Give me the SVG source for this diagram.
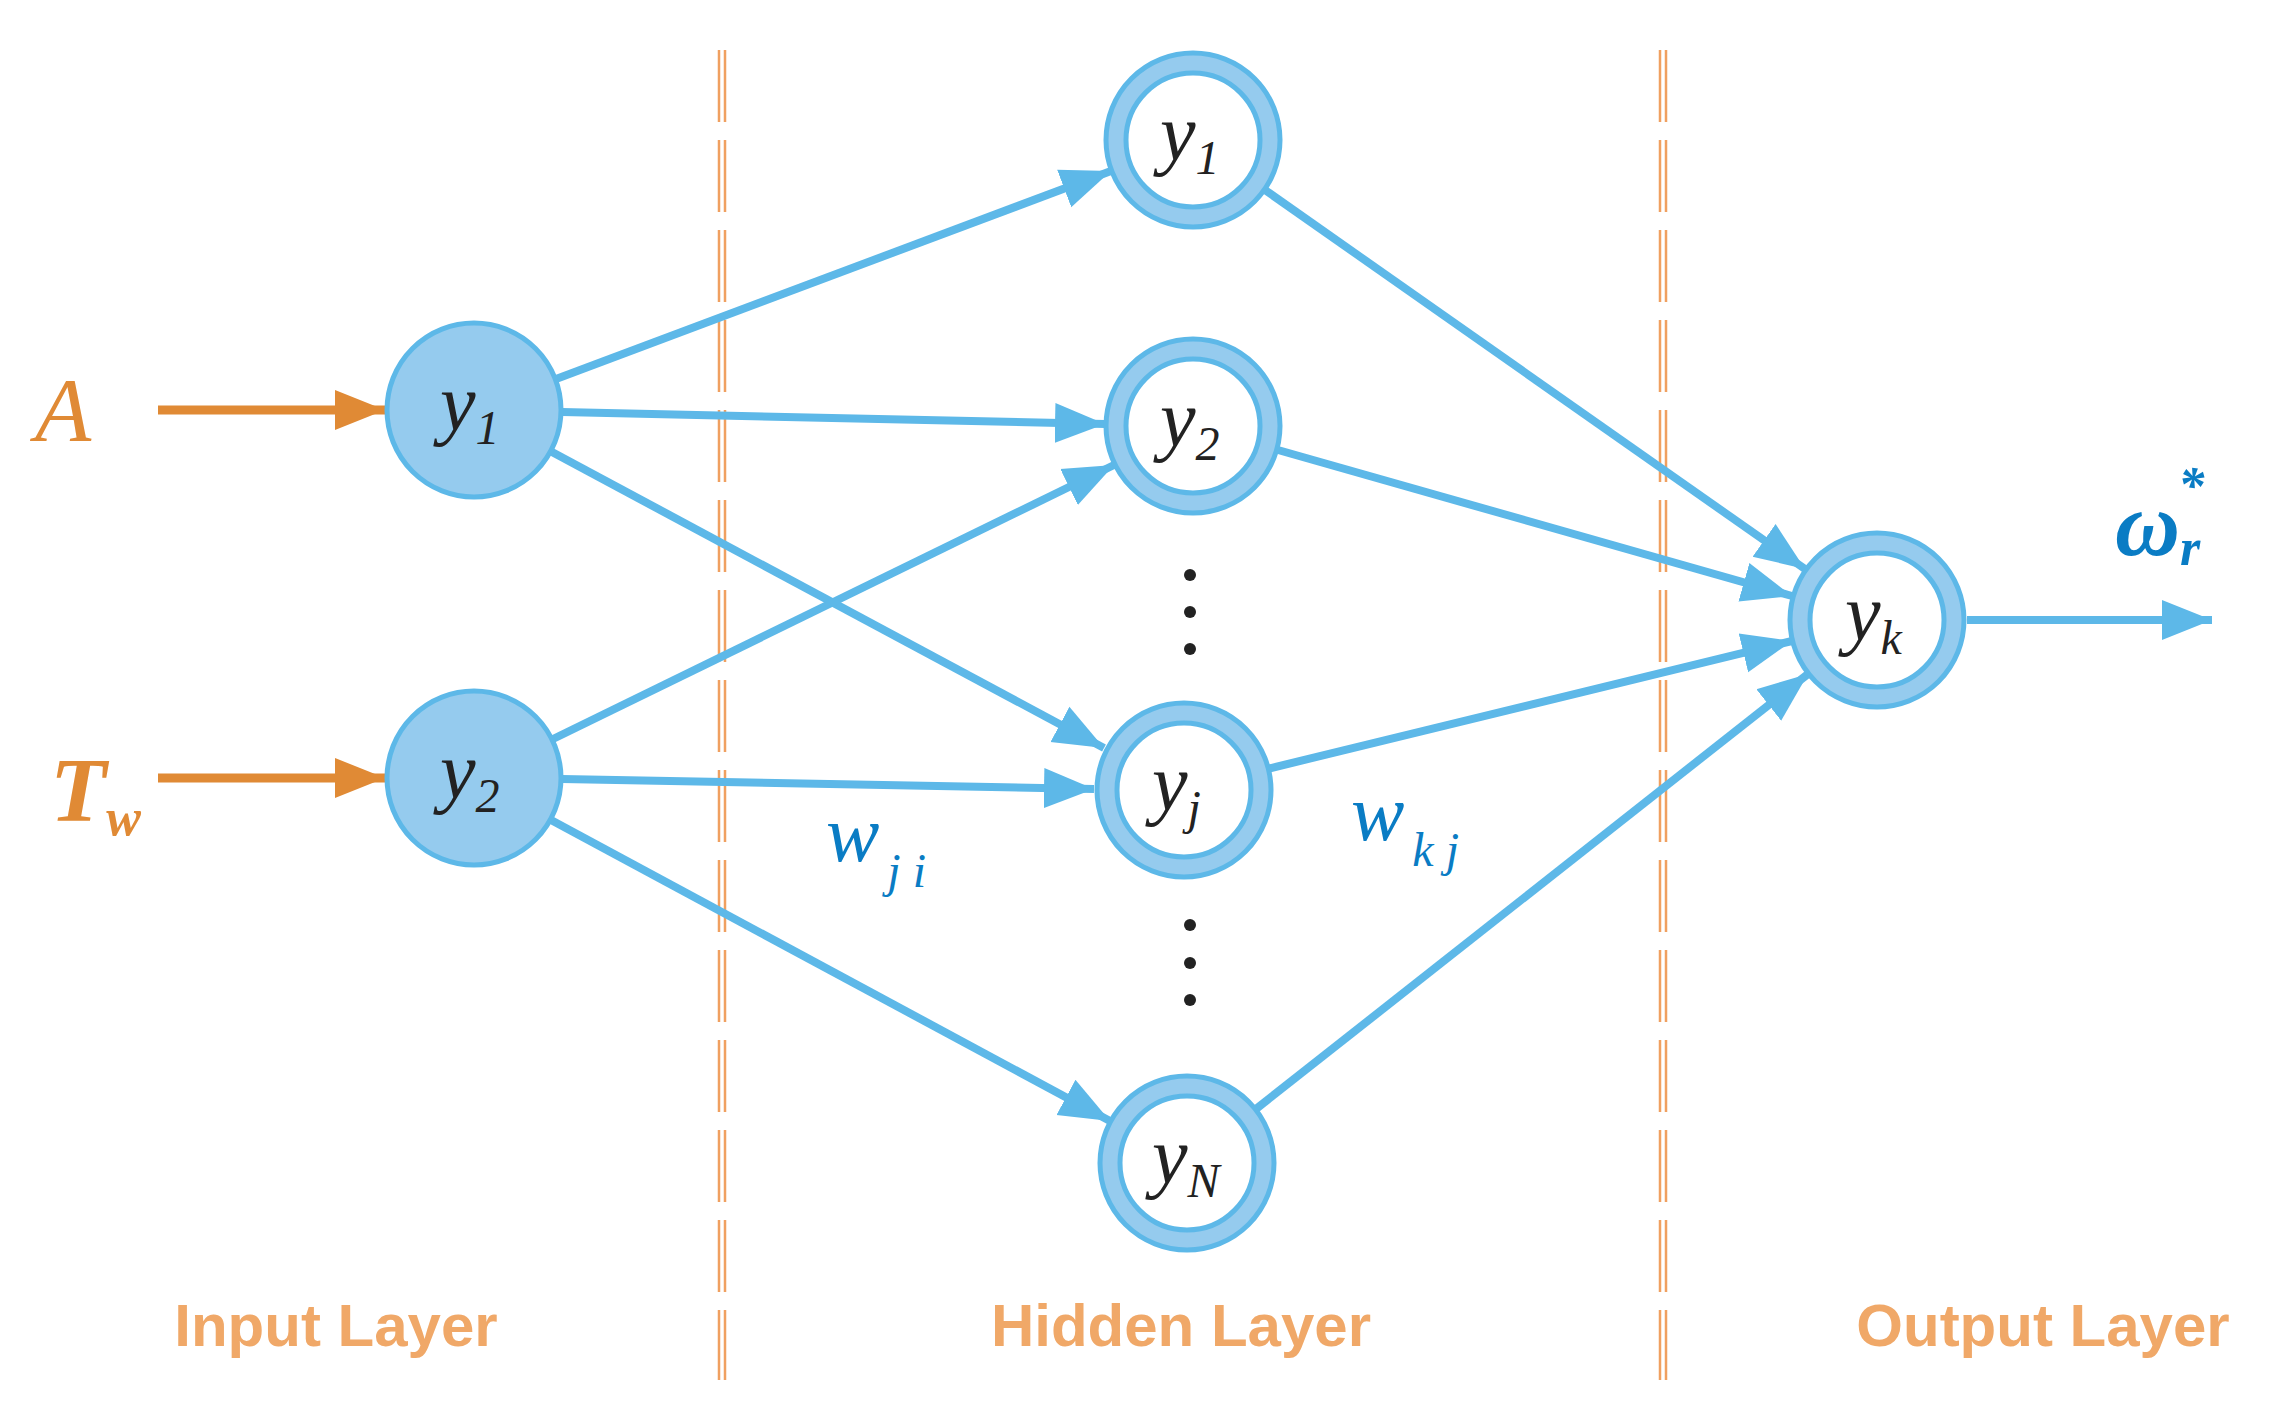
<svg xmlns="http://www.w3.org/2000/svg" width="2292" height="1415" viewBox="0 0 2292 1415">
<style>
.e{stroke:#5db8e8;stroke-width:8;fill:none;marker-end:url(#ab)}
.o{stroke:#e08a35;stroke-width:9;fill:none;marker-end:url(#ao)}
.d{stroke:#f0a060;stroke-width:2.5;stroke-dasharray:72 18}
.v{font-family:"Liberation Serif",serif;font-style:italic;fill:#222}
.lab{font-family:"Liberation Sans",Arial,sans-serif;font-weight:bold;font-size:60px;fill:#f0a868}
.w{font-family:"Liberation Serif",serif;font-style:italic;fill:#0a7cc4}
.ring{fill:#fff;stroke:#95cbee;stroke-width:18}
.rl{fill:none;stroke:#5db8e8;stroke-width:5}
</style>
<defs>
<marker id="ab" markerUnits="userSpaceOnUse" markerWidth="52" markerHeight="44" refX="50" refY="22" orient="auto"><path d="M0,2 L50,22 L0,42 z" fill="#5db8e8"/></marker>
<marker id="ao" markerUnits="userSpaceOnUse" markerWidth="52" markerHeight="44" refX="50" refY="22" orient="auto"><path d="M0,2 L50,22 L0,42 z" fill="#e08a35"/></marker>
</defs>
<g id="dividers">
<line class="d" x1="719" y1="50" x2="719" y2="1380"/><line class="d" x1="725" y1="50" x2="725" y2="1380"/>
<line class="d" x1="1660" y1="50" x2="1660" y2="1380"/><line class="d" x1="1666" y1="50" x2="1666" y2="1380"/>
</g>
<g id="connectors">
<line class="o" x1="158" y1="410" x2="385" y2="410"/>
<line class="o" x1="158" y1="778" x2="385" y2="778"/>
<line class="e" x1="556" y1="379" x2="1111" y2="171"/>
<line class="e" x1="562" y1="412" x2="1105" y2="424"/>
<line class="e" x1="552" y1="452" x2="1104" y2="748"/>
<line class="e" x1="553" y1="739" x2="1114" y2="465"/>
<line class="e" x1="562" y1="779" x2="1094" y2="789"/>
<line class="e" x1="551" y1="820" x2="1110" y2="1121"/>
<line class="e" x1="1265" y1="190" x2="1805" y2="569"/>
<line class="e" x1="1278" y1="450" x2="1792" y2="596"/>
<line class="e" x1="1267" y1="769" x2="1792" y2="641"/>
<line class="e" x1="1256" y1="1109" x2="1808" y2="674"/>
<line class="e" x1="1967" y1="620" x2="2212" y2="620"/>
</g>
<g id="inputA"><text x="35" y="441" font-family="Liberation Serif,serif" font-style="italic" font-size="92" fill="#e08a35">A</text></g>
<g id="inputTw"><text x="50" y="821" font-family="Liberation Serif,serif" font-style="italic" font-weight="bold" font-size="92" fill="#e08a35">T<tspan font-size="52" dy="14">w</tspan></text></g>
<g id="in1"><circle cx="474" cy="410" r="87" fill="#95cbee" stroke="#5db8e8" stroke-width="5"/><text class="v" x="440" y="430" font-size="80">y<tspan font-size="48" dy="14">1</tspan></text></g>
<g id="in2"><circle cx="474" cy="778" r="87" fill="#95cbee" stroke="#5db8e8" stroke-width="5"/><text class="v" x="440" y="798" font-size="80">y<tspan font-size="48" dy="14">2</tspan></text></g>
<g id="h1"><circle class="ring" cx="1193" cy="140" r="77"/><circle class="rl" cx="1193" cy="140" r="87"/><circle class="rl" cx="1193" cy="140" r="67"/><text class="v" x="1160" y="160" font-size="80">y<tspan font-size="48" dy="14">1</tspan></text></g>
<g id="h2"><circle class="ring" cx="1193" cy="426" r="77"/><circle class="rl" cx="1193" cy="426" r="87"/><circle class="rl" cx="1193" cy="426" r="67"/><text class="v" x="1160" y="446" font-size="80">y<tspan font-size="48" dy="14">2</tspan></text></g>
<g id="hj"><circle class="ring" cx="1184" cy="790" r="77"/><circle class="rl" cx="1184" cy="790" r="87"/><circle class="rl" cx="1184" cy="790" r="67"/><text class="v" x="1152" y="810" font-size="80">y<tspan font-size="48" dy="14">j</tspan></text></g>
<g id="hN"><circle class="ring" cx="1187" cy="1163" r="77"/><circle class="rl" cx="1187" cy="1163" r="87"/><circle class="rl" cx="1187" cy="1163" r="67"/><text class="v" x="1152" y="1183" font-size="80">y<tspan font-size="48" dy="14">N</tspan></text></g>
<g id="out"><circle class="ring" cx="1877" cy="620" r="77"/><circle class="rl" cx="1877" cy="620" r="87"/><circle class="rl" cx="1877" cy="620" r="67"/><text class="v" x="1845" y="640" font-size="80">y<tspan font-size="48" dy="14">k</tspan></text></g>
<g id="dots" fill="#222">
<circle cx="1190" cy="575" r="6"/><circle cx="1190" cy="612" r="6"/><circle cx="1190" cy="649" r="6"/>
<circle cx="1190" cy="925" r="6"/><circle cx="1190" cy="963" r="6"/><circle cx="1190" cy="1000" r="6"/>
</g>
<g id="weights">
<text class="w" x="826" y="861" font-size="80">w<tspan font-size="48" dx="8" dy="26">j i</tspan></text>
<text class="w" x="1351" y="840" font-size="80">w<tspan font-size="48" dx="8" dy="26">k j</tspan></text>
</g>
<g id="omega"><text x="2115" y="555" font-family="Liberation Serif,serif" font-style="italic" font-weight="bold" font-size="90" fill="#0a7cc4">ω<tspan font-size="52" dy="10">r</tspan><tspan font-size="52" dx="-22" dy="-62">*</tspan></text></g>
<g id="labels">
<text class="lab" x="336" y="1346" text-anchor="middle">Input Layer</text>
<text class="lab" x="1181" y="1346" text-anchor="middle">Hidden Layer</text>
<text class="lab" x="2043" y="1346" text-anchor="middle">Output Layer</text>
</g>
</svg>
